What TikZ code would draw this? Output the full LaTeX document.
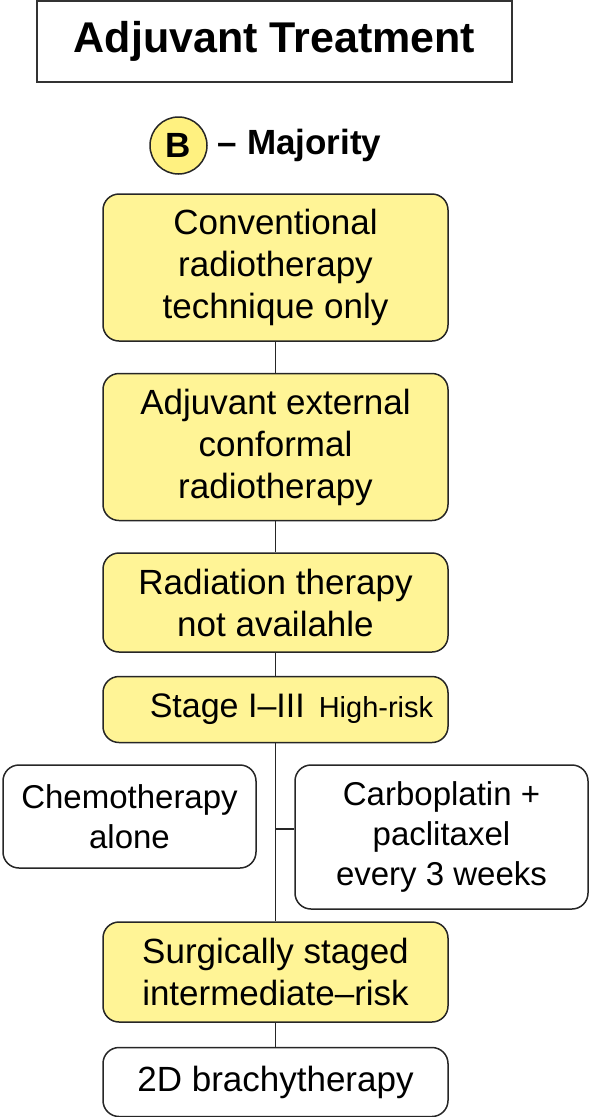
\documentclass[tikz,border=0pt]{standalone}
\usepackage{fontspec}
\setmainfont{Liberation Sans}
\usetikzlibrary{positioning}
\definecolor{boxyellow}{RGB}{255,244,150}
\definecolor{circyellow}{RGB}{255,241,128}
\newcommand{\bodyfont}{\fontsize{35}{42}\selectfont}
\newcommand{\smallbody}{\fontsize{33}{40}\selectfont}
\tikzset{
x=1pt, y=-1pt, % one unit is one pixel of the reference, rows counted downwards
flowbox/.style={draw=black!85, line width=1.5pt, rounded corners=16pt, minimum width=345pt, align=center, inner sep=0pt, font=\bodyfont}, % every step of the chart
yellowbox/.style={flowbox, fill=boxyellow}, % yellow decision boxes
whitebox/.style={flowbox, fill=white}, % white treatment boxes
link/.style={draw=black!85, line width=1.4pt}, % plain connectors, no arrow heads
}

\begin{document}
\begin{tikzpicture}
    \useasboundingbox (0,0) rectangle (590,1117);
    \node[draw=black!80, line width=2.2pt, minimum width=475pt, minimum height=81pt, font=\bfseries\fontsize{43}{50}\selectfont] (title) at (274.5,41.5) {Adjuvant Treatment};
    \node[circle, draw=black!85, line width=1.5pt, fill=circyellow, minimum size=57pt, inner sep=0pt, font=\bfseries\fontsize{35}{40}\selectfont] (grpB) at (178.5,145.5) {B};
    \node[right=10pt of grpB, inner sep=0pt, font=\bfseries\fontsize{35}{40}\selectfont] (majority) {\textendash{} Majority};
    \node[yellowbox, minimum height=147pt] (conv) at (275.5,267.5) {Conventional\\radiotherapy\\technique only};
    \node[yellowbox, minimum height=147pt, below=31pt of conv] (adj) {Adjuvant external\\conformal\\radiotherapy};
    \node[yellowbox, minimum height=99pt, below=31pt of adj] (rad) {Radiation therapy\\not availahle};
    \node[yellowbox, minimum height=66pt, below=23pt of rad] (stage) {\hspace*{32pt}{\fontsize{34}{40}\selectfont Stage I\textendash III}\hspace{14pt}{\fontsize{29}{35}\selectfont High-risk}};
    \node[whitebox, minimum width=253pt, minimum height=103pt, font=\smallbody] (chemo) at (129.5,816.5) {Chemotherapy\\alone};
    \node[whitebox, minimum width=293pt, minimum height=144pt, font=\smallbody] (carbo) at (441.5,837) {Carboplatin +\\paclitaxel\\every 3 weeks};
    \node[yellowbox, minimum height=100pt] (surg) at (275.5,972) {Surgically staged\\intermediate\textendash risk};
    \node[whitebox, minimum height=69pt, below=24pt of surg] (brachy) {2D brachytherapy};
    \coordinate (fork) at (275.5,829);
    \draw[link]
    (conv) -- (adj)
    (adj) -- (rad)
    (rad) -- (stage)
    (stage) -- (surg)
    (fork) -- (fork -| carbo.west)
    (surg) -- (brachy);
\end{tikzpicture}
\end{document}
